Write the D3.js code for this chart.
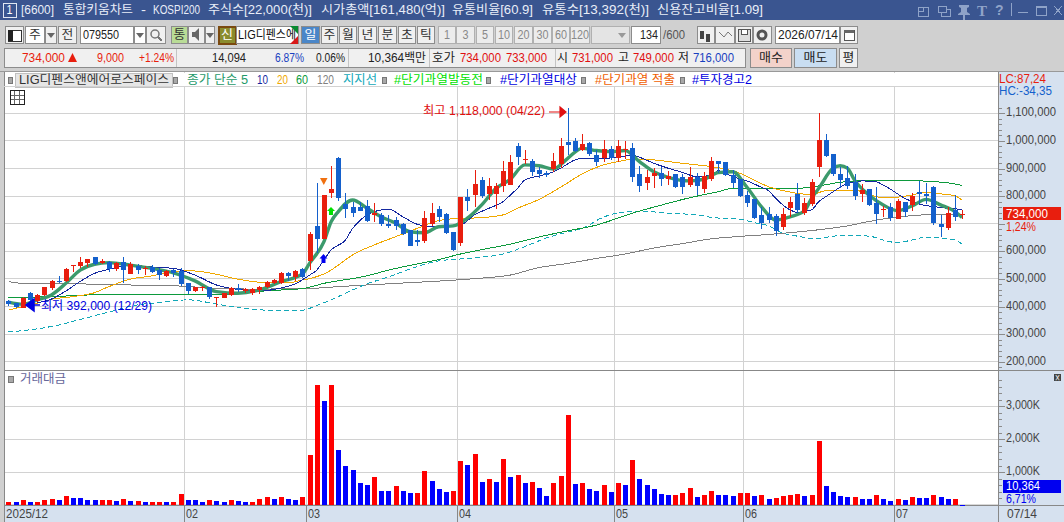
<!DOCTYPE html>
<html><head><meta charset="utf-8">
<script src="https://cdn.jsdelivr.net/npm/d3@7/dist/d3.min.js"></script>
<style>html,body{margin:0;padding:0;background:#d0d0d0;overflow:hidden}svg{display:block}text{font-family:"Liberation Sans","Noto Sans CJK KR",sans-serif;font-size:12px;dominant-baseline:central}</style>
</head><body><svg id="c" width="1064" height="522"></svg>
<script>
// ---- price data, thousands of won
const opens=[420,412,396,449,420,441,467,493,492,547,
547,559,579,557,561,536,560,518,548,537,
542,532,511,532,529,485,457,466,470,430,
432,442,466,457,448,460,472,484,484,522,
506,536,566,692,645,812,938,771,761,761,
763,732,732,699,713,699,677,641,638,699,
752,734,670,631,796,804,858,808,808,837,
841,982,932,928,895,884,897,915,995,1000,
968,992,949,939,970,939,967,973,880,849,
873,883,861,880,868,840,868,827,861,926,
924,875,861,803,791,732,734,728,689,758,
808,740,771,907,1003,953,880,866,851,808,
825,775,750,759,718,780,768,814,806,834,
699,683,750,731];
const highs=[424,413,433,453,445,471,496,511,538,550,
579,571,579,572,565,560,578,562,553,548,
550,541,532,535,538,485,472,474,472,433,
449,472,480,466,467,475,493,500,526,526,
532,541,670,849,804,909,941,812,780,780,
786,774,738,732,725,701,677,677,746,774,
764,738,671,796,826,895,868,864,849,928,
949,994,967,933,907,892,957,1012,1118,1009,
1025,997,967,1003,982,1003,1001,994,909,895,
901,904,892,880,880,904,883,888,943,926,
924,895,861,820,791,762,762,735,756,798,
849,792,863,1100,1025,953,907,909,880,844,
825,832,764,774,791,780,810,856,846,837,
732,759,804,749];
const lows=[402,394,394,392,416,438,460,486,490,526,
540,544,550,554,526,530,484,517,518,514,
520,496,508,508,475,445,453,457,428,399,
431,438,454,448,442,445,466,480,480,494,
492,502,532,594,645,794,782,720,723,746,
706,706,692,683,677,659,620,620,629,692,
707,663,601,619,747,762,792,786,752,816,
839,913,916,873,867,868,888,901,949,961,
964,945,909,925,931,925,933,852,816,822,
828,837,840,828,808,834,804,812,856,883,
873,828,796,759,716,680,704,655,677,725,
740,732,764,870,943,873,828,827,786,780,
764,699,725,711,716,723,747,771,771,696,
653,677,711,716];
const closes=[409,397,431,424,442,470,493,490,536,550,
561,571,553,566,536,557,532,553,532,541,
525,514,529,523,482,456,470,470,436,433,
448,466,460,462,462,470,489,496,522,511,
529,508,663,646,804,826,792,753,738,747,
711,740,700,693,692,663,620,635,720,738,
723,665,605,796,783,843,800,837,837,891,
923,943,934,886,879,876,927,981,986,964,
989,953,925,970,939,981,970,870,837,868,
885,863,873,834,834,868,837,873,926,917,
878,849,801,776,720,704,713,674,735,779,
750,774,851,1003,945,880,858,838,800,822,
768,735,753,720,783,741,800,809,801,701,
689,738,725,734];
// ---- traded value (K), with up/down flag
const volumes=[91,91,152,91,91,152,182,152,273,212,
212,152,152,152,152,121,182,121,121,91,
91,91,91,91,333,152,152,91,152,121,
91,152,121,91,91,182,242,182,242,182,
152,242,1515,3636,3151,3636,1667,1182,1061,667,
606,848,424,424,576,424,364,364,1030,727,
485,394,424,1333,1212,1545,697,788,697,1394,
848,909,667,697,515,273,667,879,2727,636,
667,485,424,606,394,667,606,1364,788,606,
485,333,303,303,364,515,242,303,424,303,
303,273,364,364,273,303,182,212,273,303,
333,273,303,1939,576,394,273,242,242,182,
182,303,182,121,182,152,242,212,212,303,
242,182,182,10.364];
const volumeUp=[1,0,1,0,1,1,1,0,1,0,
0,0,0,1,1,0,1,0,1,0,
1,1,0,1,1,0,0,0,1,0,
0,1,0,0,1,1,1,0,1,0,
0,1,1,1,0,1,0,0,0,0,
0,1,0,0,1,0,0,1,1,0,
0,0,1,1,0,1,0,1,0,1,
0,1,0,1,0,0,1,1,1,0,
1,0,0,1,0,1,0,1,0,0,
0,0,0,1,1,1,0,1,1,0,
0,0,1,1,0,1,0,1,1,1,
1,0,1,1,0,0,0,0,1,0,
0,1,0,0,1,0,1,0,0,1,
0,0,1,0];
// ---- moving averages at the listed bars
const ma5Bars=[0,2,4,6,8,10,12,14,17,20,23,26,29,32,35,38,41,42,44,45,46,48,50,52,54,56,58,60,62,64,66,68,70,72,74,76,78,80,82,84,86,88,90,92,95,97,99,101,103,105,107,109,111,112,113,115,116,117,118,120,122,124,126,128,130,132,133];
const ma5=[416,408,424,442,484,532,553,559,550,538,522,493,454,448,460,490,518,557,635,707,744,786,756,725,702,671,667,689,692,720,768,828,861,913,910,898,937,973,965,961,965,925,888,868,855,861,885,888,832,762,713,725,746,792,828,901,910,901,858,804,768,747,764,788,768,744,723];
const ma10Bars=[4,6,8,10,12,14,17,20,23,26,29,32,35,38,40,42,43,44,45,47,48,49,50,52,53,55,57,59,61,63,65,67,69,70,71,72,74,76,77,79,80,83,85,87,88,90,92,94,96,98,99,101,103,105,106,107,109,110,112,113,114,116,117,119,121,122,123,125,127,129,131,133];
const ma10=[413,427,456,491,520,535,550,543,538,514,478,462,456,467,482,514,532,569,605,641,683,711,732,750,753,725,698,689,692,695,732,756,780,804,828,858,873,888,901,931,937,937,941,949,941,919,901,886,870,876,892,870,855,832,820,792,750,741,750,780,798,832,846,855,852,840,825,792,771,762,756,752];
const ma20Bars=[0,4,6,9,12,14,17,20,23,25,28,32,35,39,41,42,44,45,46,48,51,54,57,60,62,66,69,71,74,77,80,83,85,87,90,93,96,99,102,104,106,108,110,112,114,116,118,120,122,124,126,128,130,132,133];
const ma20=[387,412,426,436,450,472,499,511,526,530,522,499,488,486,496,501,518,532,550,587,623,653,683,711,718,722,732,756,788,832,880,913,925,933,931,922,913,903,883,858,834,820,810,806,820,822,822,806,794,796,804,814,808,801,785];
const ma60Bars=[0,8,14,23,30,36,41,42,44,46,50,53,57,60,63,66,70,74,78,82,87,91,95,99,101,106,110,113,116,120,124,128,132,133];
const ma60=[431,438,444,443,442,457,465,470,484,493,511,532,554,570,590,606,626,652,674,695,738,767,794,816,828,829,828,837,850,857,858,854,844,838];
const ma120Bars=[0,2,10,20,24,28,34,41,46,50,55,60,65,70,74,78,82,86,90,94,98,102,106,110,114,117,120,124,128,132,133];
const ma120=[490,484,482,476,474,467,463,464,472,478,485,492,501,514,541,556,574,590,612,628,645,654,661,670,681,692,708,724,732,732,733];
const supportBars=[0,4,7,10,14,18,20,22,25,29,32,36,41,43,45,46,50,53,56,60,63,66,69,72,75,78,80,83,85,86,89,92,96,98,102,104,106,108,110,113,115,118,120,122,124,126,128,130,132,133];
const support=[308,319,333,353,380,406,412,417,424,409,396,387,387,404,424,436,482,507,536,565,572,579,590,617,648,670,683,724,739,742,744,738,732,723,716,704,692,666,655,645,655,657,655,641,631,641,651,648,641,626];
// ---- axes
const priceTicks=[200,300,400,500,600,700,800,900,1000,1100];
const volumeTicks=[1000,2000,3000];
const monthBars=[0,25,42,63,85,103,124];
const monthLabels=["2025/12","02","03","04","05","06","07"];

const svg=d3.select("#c");
const C={red:"#e81e0e",blue:"#1460cc",grid:"#d2d2d2",band:"#d6e1ef",dark:"#888888",win:"#3a5590",txt:"#333333"};
const R=(x0,y0,x1,y1,fill,stroke,g)=>(g||svg).append("rect").attr("x",x0).attr("y",y0).attr("width",x1-x0).attr("height",y1-y0).attr("fill",fill||"none").attr("stroke",stroke||"none").attr("shape-rendering","crispEdges");
const L=(x0,y0,x1,y1,c,g,w)=>(g||svg).append("line").attr("x1",x0).attr("y1",y0).attr("x2",x1).attr("y2",y1).attr("stroke",c).attr("stroke-width",w||1).attr("shape-rendering","crispEdges");
const cw=ch=>/[\u3131-\uD7A3]/.test(ch)?11.8:/[,.:]/.test(ch)?4:/[ ()\[\]]/.test(ch)?4.6:6;
const tw=s=>Array.from(s).reduce((a,c)=>a+cw(c),0);
function T(x,y,s,fill,w,anchor,g){const W=w||tw(s);
  return (g||svg).append("text").attr("x",x).attr("y",y).attr("fill",fill||C.txt).attr("text-anchor",anchor||"start").attr("textLength",W).attr("lengthAdjust","spacingAndGlyphs").text(s);}

// ---- window chrome
R(0,0,1064,522,"#d0d0d0");
R(0,0,1064,20,C.win);
R(3,3,16,17,C.win,"#dfe6f2");
T(9.5,10,"1","#ffffff",6,"middle");
const ttl="#e9eef8";
[[21,"[6600]",33],[63,"통합키움차트",70],[141,"-",5],[153,"KOSPI200",47],[208,"주식수[22,000(천)]",104],[321,"시가총액[161,480(억)]",124],[452,"유통비율[60.9]",81],[542,"유통수[13,392(천)]",107],[657,"신용잔고비율[1.09]",106]].forEach(d=>T(d[0],10,d[1],ttl,d[2]));
// title bar icons
const ic="#8fa3c8";
R(918,7,928,16,null,ic);R(918,7,923,11,null,ic);
R(941,9,950,16,null,ic);R(938,6,946,12,C.win,ic);
svg.append("path").attr("d","M959 5h10v2l-2 1v4l3 2v1h-5v5h-2v-5h-5v-1l3-2V8l-2-1z").attr("fill",ic);
svg.append("text").attr("x",977).attr("y",11).attr("fill",ic).attr("style","font-family:'Liberation Serif';font-size:15px;font-weight:bold").text("T");
svg.append("text").attr("x",995).attr("y",10).attr("fill",ic).attr("style","font-size:14px;font-weight:bold").text("?");
L(1011,3,1011,16,ic);R(1018,12,1028,13,ic);R(1036,6,1046,15,null,ic);R(1036,6,1046,8,ic);
L(1054,6,1062,15,ic);L(1062,6,1054,15,ic);

// ---- toolbar row 1
function B(x0,x1,label,o){o=o||{};const y0=o.y0||26,y1=o.y1||44;
  R(x0+.5,y0+.5,x1-.5,y1-.5,o.fill||"#f0f0f0",o.stroke||"#8c8c8c");
  if(label)T((x0+x1)/2,(y0+y1)/2,label,o.color||"#333",o.w,"middle");}
function tri(x,y,c){svg.append("path").attr("d",`M${x-4} ${y-2}h8l-4 5z`).attr("fill",c||"#666");}
B(5,24);R(8,30,21,41,"#fff","#333");R(8,30,13,41,"#222");
B(25,45,"주",{fill:"#fff"});B(45,57);tri(51,35);
B(58,77,"전");
B(80,134,"",{fill:"#fff"});T(83,35,"079550","#222",36);
B(134,146,"",{fill:"#fff"});tri(140,35);
B(146,166);svg.append("circle").attr("cx",155).attr("cy",34).attr("r",4).attr("fill","none").attr("stroke","#777").attr("stroke-width",1.5);L(158,37,162,41,"#777",null,2);
B(171,188,"통",{fill:"#b9dc96"});
B(188,205);svg.append("path").attr("d","M192 32h3l4-4v13l-4-4h-3z").attr("fill","#666");
B(205,215);tri(210,35);
R(218.5,26.5,236,43.5,"#8a8c2e","#7a4a10").attr("stroke-width",2);T(227,35,"신","#fff",12,"middle");
R(236,26.5,298,43.5,"#fff","#8c8c8c");T(238,35,"LIG디펜스에","#111",58);
svg.append("path").attr("d","M298 26l-8 0 8 8z").attr("fill","#0a8a30");svg.append("path").attr("d","M298 44l-8 0 8-8z").attr("fill","#d81818");
B(301,320,"일",{fill:"#4a86c8",color:"#fff"});
[[321,338,"주"],[339,357,"월"],[358,377,"년"],[378,397,"분"],[398,416,"초"],[417,435,"틱"]].forEach(d=>B(d[0],d[1],d[2]));
[[438,456,"1"],[456,475,"3"],[476,494,"5"],[495,513,"10"],[514,533,"20"],[533,552,"30"],[552,570,"60"],[570,590,"120"]].forEach(d=>B(d[0],d[1],d[2],{color:"#888",fill:"#ececec",stroke:"#b0b0b0"}));
B(591,630,"",{fill:"#e4e4e4",stroke:"#b0b0b0"});tri(622,35,"#999");
B(631,661,"",{fill:"#fff"});T(658,35,"134","#222",18,"end");T(663,35,"/600","#555",22);
B(697,715);B(715,735);B(735,753);B(753,772);
[[700,31],[706,34]].forEach(d=>R(d[0],d[1],d[0]+4,d[1]+8,"#444"));
svg.append("path").attr("d","M719 32l5 5 4-5 4 4").attr("fill","none").attr("stroke","#777");
R(738,29,750,41,"#ddd","#555");R(741,29,747,34,"#fff","#555");
svg.append("circle").attr("cx",762).attr("cy",35).attr("r",4).attr("fill","none").attr("stroke","#555").attr("stroke-width",3);
B(775,840,"",{fill:"#fff"});T(778,35,"2026/07/14","#222",60);
B(840,858);R(844,30,854,40,"#fff","#555");R(844,30,854,33,"#666");

// ---- quote row 2
R(4.5,48.5,745.5,67.5,"#f0f0f0","#8c8c8c");
[176,348,429,555].forEach(x=>L(x,49,x,67,"#c4c4c4"));
const Y2=58;
T(22,Y2,"734,000",C.red,43);svg.append("path").attr("d","M68 62l4.5-9 4.5 9z").attr("fill",C.red);
T(97,Y2,"9,000",C.red,27);T(139,Y2,"+1.24%",C.red,35);
T(212,Y2,"14,094","#222",34);T(275,Y2,"6.87%","#1840c0",29);T(316,Y2,"0.06%","#222",29);
T(368,Y2,"10,364백만","#222",58);T(432,Y2,"호가","#222",23);
T(460,Y2,"734,000","#e01010",41);T(506,Y2,"733,000","#e01010",41);
T(557,Y2,"시","#222",11);T(572,Y2,"731,000","#e01010",41);
T(618,Y2,"고","#222",11);T(633,Y2,"749,000","#e01010",41);
T(678,Y2,"저","#222",11);T(693,Y2,"716,000","#1840c0",41);
B(750,792,"매수",{fill:"#f3d2ca",y0:48,y1:68,w:24,color:"#222"});
B(794,837,"매도",{fill:"#c9def2",y0:48,y1:68,w:24,color:"#222"});
B(839,858,"평",{y0:48,y1:68,color:"#222",fill:"#f0f0f0"});

// ---- panels
R(4,72,998,370,"#fff");
R(4,371,998,505,"#fff");
R(998,72,1064,522,C.band);
R(4,506,998,522,C.band);
L(0,71,1064,71,"#999");L(4,72,4,522,C.dark);L(998.5,72,998.5,522,C.dark);
L(4,370.5,1064,370.5,C.dark);L(4,505.5,998,505.5,C.dark);L(998,505.5,1064,505.5,C.dark);

// ---- scales
const x=d3.scaleBand().domain(d3.range(closes.length)).range([4.9,4.9+7.17*closes.length]);
const cx=i=>x(i)+x.bandwidth()/2;
const y=d3.scaleLinear().domain([200,1100]).range([361.7,113.3]);
const yv=d3.scaleLinear().domain([0,3000]).range([505,406.3]);
const gGrid=svg.append("g");
L(4,86,998,86,C.grid,gGrid);
priceTicks.forEach(t=>L(5,y(t),998,y(t),C.grid,gGrid));
volumeTicks.forEach(t=>L(5,yv(t),998,yv(t),C.grid,gGrid));
L(5,504.5,998,504.5,"#d8d8d8",gGrid);
monthBars.slice(1).forEach(b=>{const X=Math.round(x(b));L(X,72,X,370,C.grid,gGrid);L(X,371,X,505,C.grid,gGrid);L(X,506,X,522,C.dark);});
L(998,506,998,522,C.dark);

// ---- right axes (the 700,000 label is covered by the current-price box in the source chart)
const minorP=d3.range(180,1121,20);
const axP=svg.append("g").attr("transform","translate(999,0)").call(d3.axisRight(y).tickValues(minorP).tickSize(3).tickFormat(""));
const axM=svg.append("g").attr("transform","translate(999,0)").call(d3.axisRight(y).tickValues(priceTicks).tickSize(6).tickFormat(d=>d===700?"":d3.format(",")(d*1000)));
const minorV=d3.range(200,3801,200);
const axV=svg.append("g").attr("transform","translate(999,0)").call(d3.axisRight(yv).tickValues(minorV).tickSize(3).tickFormat(""));
const axVM=svg.append("g").attr("transform","translate(999,0)").call(d3.axisRight(yv).tickValues(volumeTicks).tickSize(6).tickFormat(d=>d3.format(",")(d)+"K"));
[axP,axM,axV,axVM].forEach(a=>{a.select(".domain").remove();a.selectAll("line").attr("stroke","#8c8c8c").attr("shape-rendering","crispEdges");});
[axM,axVM].forEach(a=>a.selectAll("text").attr("x",7).attr("dy",null).attr("y",-1.5).attr("fill","#444").attr("text-anchor","start").attr("textLength",function(){return tw(this.textContent)||1}).attr("lengthAdjust","spacingAndGlyphs").style("font-family",'"Liberation Sans"').style("font-size","12px"));
T(999,79,"LC:87,24",C.red,47);T(999,91,"HC:-34,35",C.blue,53);
R(1003,207,1061,220,"#e81e0e");T(1006,213.5,"734,000","#fff",42);T(1006,227,"1,24%",C.red,30);
R(1003,480,1061,493,"#0000f0");T(1006,486,"10,364","#fff",34);T(1006,499,"6,71%","#0000f0",30);
R(1054,374,1061,381,"#444");T(1057.5,377.5,"×","#eee",5,"middle");
monthBars.forEach((b,i)=>T(i?Math.round(x(b))+2:6,514,monthLabels[i],"#444",tw(monthLabels[i])));
T(1007,514,"07/14","#444",30);

// ---- averages
const line=d3.line().x(d=>cx(d[0])).y(d=>y(d[1])).curve(d3.curveMonotoneX);
const gL=svg.append("g").attr("fill","none");
[[ma120Bars,ma120,"#808080",1,null],[supportBars,support,"#12a8b8",1,"5,3"],[ma60Bars,ma60,"#0c9a3c",1,null],[ma20Bars,ma20,"#f0a800",1,null],[ma10Bars,ma10,"#1428a0",1,null],[ma5Bars,ma5,"#3c9a6c",3.4,null]]
.forEach(d=>gL.append("path").attr("d",line(d3.zip(d[0],d[1]))).attr("stroke",d[2]).attr("stroke-width",d[3]).attr("stroke-dasharray",d[4]).attr("stroke-linejoin","round").attr("shape-rendering",d[3]<2?"crispEdges":"auto"));

// ---- candles
const gC=svg.append("g").attr("shape-rendering","crispEdges");
const idx=d3.range(closes.length);
const col=i=>closes[i]>=opens[i]?C.red:C.blue;
gC.selectAll(".w").data(idx).join("line").attr("x1",i=>Math.round(cx(i))+.5).attr("x2",i=>Math.round(cx(i))+.5).attr("y1",i=>y(highs[i])).attr("y2",i=>y(lows[i])).attr("stroke",col);
gC.selectAll(".b").data(idx).join("rect").attr("x",i=>Math.round(cx(i))-2).attr("width",5).attr("y",i=>y(Math.max(opens[i],closes[i]))).attr("height",i=>Math.max(1,Math.abs(y(opens[i])-y(closes[i])))).attr("fill",col);

// ---- volume bars
svg.append("g").attr("shape-rendering","crispEdges").selectAll("rect").data(idx).join("rect")
 .attr("x",i=>Math.round(cx(i))-2).attr("width",5).attr("y",i=>yv(volumes[i])).attr("height",i=>Math.max(1,505-yv(volumes[i]))).attr("fill",i=>volumeUp[i]?"#ff0000":"#0000ff");
R(8.5,376.5,13,382,"#a8a8a8","#777");
T(20,379,"거래대금","#66669a",46);

// ---- annotations
T(423,111,"최고 1,118,000 (04/22)","#e01010",122);
svg.append("path").attr("d","M549 112h11M560 107l6 5-6 5z").attr("stroke","#e01010").attr("fill","#e01010").attr("stroke-width",1.2);
T(41,306,"최저 392,000 (12/29)","#0000e0",111);
svg.append("path").attr("d","M33 305h7M34 299l-8 6 8 6z").attr("stroke","#0000e0").attr("fill","#0000e0").attr("stroke-width",1.5);
svg.append("path").attr("d","M320 178h7.5l-3.7 7z").attr("fill","#f07010");
svg.append("path").attr("d","M331 207l4 4h-2v4h-4v-4h-2z").attr("fill","#00e000");
svg.append("path").attr("d","M323.5 254l4 4.5h-2v4.5h-4v-4.5h-2z").attr("fill","#0000f0");

// ---- legend strip
R(5,73,998,85.5,"#fff");
R(15.5,73.5,172,87,"#e6e6e6","#c0c0c0");
T(19,80,"LIG디펜스앤에어로스페이스","#333",150);
[8,173,382,486,581,680].forEach(X=>R(X+.5,77.5,X+4.5,83,"#a8a8a8","#777"));
T(187,80,"종가 단순 5","#1f9a6a",61);T(257,80,"10","#1428a0",11);T(277,80,"20","#f0a800",11);T(296,80,"60","#0c9a3c",12);T(317,80,"120","#808080",17);T(343,80,"지지선","#12a8b8",34);
T(394,80,"#단기과열발동전","#00e000",89);T(500,80,"#단기과열대상","#0000e0",77);T(595,80,"#단기과열 적출","#f06000",80);T(692,80,"#투자경고2","#0000e0",60);
L(5,86,998,86,C.grid);
// grid button
R(10.5,90.5,24,104,"#fff","#222");
[14.5,19].forEach(X=>L(X,91,X,104,"#666"));[95,99.5].forEach(Y=>L(11,Y,24,Y,"#666"));
</script></body></html>
